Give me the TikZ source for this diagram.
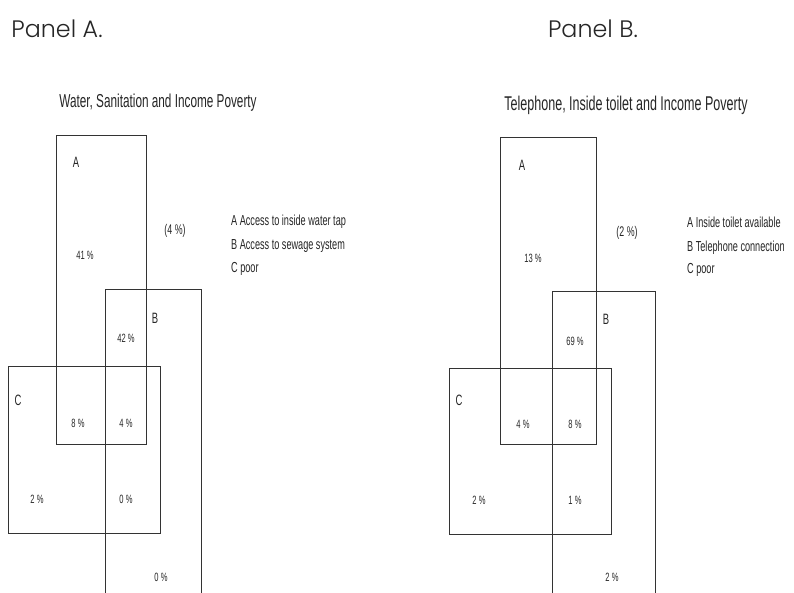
\documentclass[tikz,border=0pt]{standalone}
\usepackage{fontspec}
\setmainfont{Liberation Sans}
% condensed sans for all chart texts
\newfontfamily\narrowsans[FakeStretch=0.63]{Liberation Sans}
\IfFontExistsTF{Poppins Light}{\newfontfamily\panelfont{Poppins Light}}{\newfontfamily\panelfont{Poppins}}

\begin{document}
\begin{tikzpicture}[x=1pt,y=-1pt,
  box/.style={draw=black!80, line width=0.9pt},
  txt/.style={inner sep=0pt, text=black!85},
  pct/.style={txt, anchor=base, font=\narrowsans\fontsize{12}{12}\selectfont},
  setname/.style={txt, anchor=base, font=\narrowsans\fontsize{15}{15}\selectfont},
  paren/.style={txt, anchor=base, font=\narrowsans\fontsize{14}{14}\selectfont},
  legendline/.style={txt, anchor=base west, font=\narrowsans\fontsize{14.5}{14.5}\selectfont},
  charttitle/.style={txt, anchor=base},
  paneltitle/.style={txt, anchor=base, font=\panelfont\fontsize{23.8}{23.8}\selectfont}]

\useasboundingbox (0,0) rectangle (794,592);
\fill[white] (0,0) rectangle (794,592);

% ---------------- Panel A ----------------
\node[paneltitle] (panelA) at (57,37) {Panel A.};
\node[charttitle, font=\narrowsans\fontsize{18.7}{18.7}\selectfont] (titleA) at (158,107) {Water, Sanitation and Income Poverty};

\draw[box] (56,135) rectangle (146,444);
\draw[box] (105,594) -- (105,289) -- (201,289) -- (201,594);
\draw[box] (8,366) rectangle (160,533);

\node[setname] (aA) at (76,167) {A};
\node[setname] (aB) at (155,323) {B};
\node[setname] (aC) at (18,405) {C};

\node[pct] (a41) at (85,259) {41 \%};
\node[paren] (aout) at (175,234) {(4 \%)};
\node[pct] (a42) at (126,342) {42 \%};
\node[pct] (a8) at (78,427) {8 \%};
\node[pct] (a4) at (126,427) {4 \%};
\node[pct] (a2) at (37,503) {2 \%};
\node[pct] (a0) at (126,503) {0 \%};
\node[pct] (a0b) at (161,581) {0 \%};

\node[legendline] (alegA) at (231,225) {A Access to inside water tap};
\node[legendline] (alegB) at (231,249) {B Access to sewage system};
\node[legendline] (alegC) at (231,272) {C poor};

% ---------------- Panel B ----------------
\node[paneltitle] (panelB) at (593,37) {Panel B.};
\node[charttitle, font=\narrowsans\fontsize{19.9}{19.9}\selectfont] (titleB) at (626,110) {Telephone, Inside toilet and Income Poverty};

\draw[box] (500,137) rectangle (596,444);
\draw[box] (552,594) -- (552,291) -- (655,291) -- (655,594);
\draw[box] (449,368) rectangle (611,534);

\node[setname] (bA) at (522,170) {A};
\node[setname] (bB) at (606,324) {B};
\node[setname] (bC) at (459,405) {C};

\node[pct] (b13) at (533,262) {13 \%};
\node[paren] (bout) at (627,236) {(2 \%)};
\node[pct] (b69) at (575,345) {69 \%};
\node[pct] (b4) at (523,428) {4 \%};
\node[pct] (b8) at (575,428) {8 \%};
\node[pct] (b2) at (479,504) {2 \%};
\node[pct] (b1) at (575,504) {1 \%};
\node[pct] (b2b) at (612,581) {2 \%};

\node[legendline] (blegA) at (687,227) {A Inside toilet available};
\node[legendline] (blegB) at (687,251) {B Telephone connection};
\node[legendline] (blegC) at (687,273) {C poor};
\end{tikzpicture}
\end{document}
